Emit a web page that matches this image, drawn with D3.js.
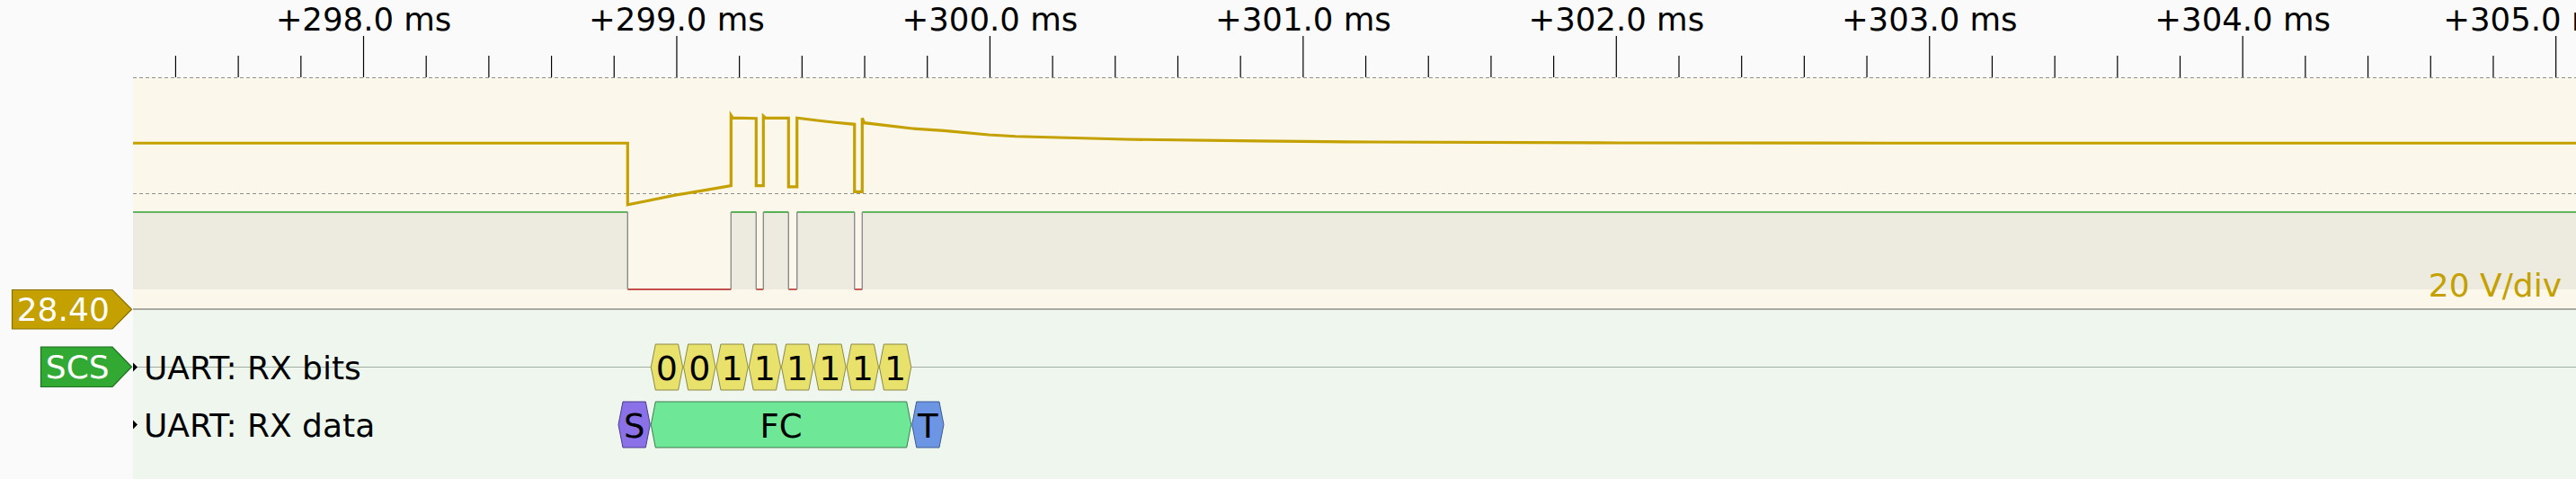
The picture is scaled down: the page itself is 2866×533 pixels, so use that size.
<!DOCTYPE html>
<html><head><meta charset="utf-8">
<script src="https://cdn.jsdelivr.net/npm/d3@7"></script>
<style>
html,body{margin:0;padding:0;background:#fafafa;overflow:hidden}
svg{display:block}
text{font-family:"DejaVu Sans",sans-serif}
</style>
</head><body>
<svg id="c" width="2866" height="533"></svg>
<script>
// ---------- data ----------
const majorTicks = [298, 299, 300, 301, 302, 303, 304, 305];
const tickLabels = ["+298.0 ms", "+299.0 ms", "+300.0 ms", "+301.0 ms", "+302.0 ms", "+303.0 ms", "+304.0 ms", "+305.0 ms"];
const minorTicks = [297.4, 297.6, 297.8, 298.2, 298.4, 298.6, 298.8, 299.2, 299.4, 299.6, 299.8,
  300.2, 300.4, 300.6, 300.8, 301.2, 301.4, 301.6, 301.8, 302.2, 302.4, 302.6, 302.8,
  303.2, 303.4, 303.6, 303.8, 304.2, 304.4, 304.6, 304.8];

// analog channel "28.40" (time in ms, volts)
const analogT = [297.26, 298.8446, 298.8446, 298.90, 299.00, 299.10, 299.1747,
  299.1747, 299.18, 299.255, 299.255, 299.278, 299.278, 299.285, 299.3583,
  299.3583, 299.3853, 299.3853, 299.45, 299.50, 299.569, 299.569, 299.5936,
  299.5936, 299.60, 299.7535, 299.8539, 299.9974, 300.0835, 300.4336,
  300.8584, 301.1453, 302.0063, 302.8673, 305.0655];
const analogV = [28.64, 28.64, 18.03, 18.6, 19.7, 20.6, 21.29,
  33.44, 33.0, 32.91, 21.29, 21.29, 33.3, 32.95, 32.95,
  21.09, 21.09, 32.99, 32.56, 32.25, 31.89, 20.26, 20.26,
  32.95, 32.14, 31.16, 30.78, 30.08, 29.81, 29.30,
  29.0, 28.85, 28.68, 28.64, 28.64];

// logic conversion of the same channel
const logicT = [297.26, 298.8446, 299.1747, 299.2550, 299.2780, 299.3583, 299.3853, 299.5690, 299.5936];
const logicLevel = [1, 0, 1, 0, 1, 0, 1, 0, 1];

// UART decoder annotations
const bitLabels = ["0", "0", "1", "1", "1", "1", "1", "1"];
const bitEdges = [298.9178, 299.0220, 299.1262, 299.2303, 299.3345, 299.4387, 299.5428, 299.6470, 299.7512];
const dataLabels = ["S", "FC", "T"];
const dataStart = [298.8136, 298.9178, 299.7512];
const dataEnd = [298.9178, 299.7512, 299.8553];
const dataFill = ["#8a71e8", "#6ee796", "#6c96e4"];
const dataStroke = ["#4b3d8c", "#3d7d50", "#3b5c8f"];

// ---------- layout ----------
const W = 2866, H = 533;
const viewLeft = 148;
const svg = d3.select("#c");

const x = d3.scaleLinear().domain([298, 305]).range([404, 404 + 7 * 348.45]);
const yA = d3.scaleLinear().domain([0, 40]).range([344, 86]);
const yL = d3.scaleLinear().domain([0, 1]).range([322, 236]);

// backgrounds
svg.append("rect").attr("x", 0).attr("y", 0).attr("width", W).attr("height", H).attr("fill", "#fafafa");
svg.append("rect").attr("x", viewLeft).attr("y", 86).attr("width", W - viewLeft).attr("height", 258).attr("fill", "#fbf8eb");
svg.append("rect").attr("x", viewLeft).attr("y", 344).attr("width", W - viewLeft).attr("height", H - 344).attr("fill", "#eef6ee");

svg.append("clipPath").attr("id", "vc").append("rect")
  .attr("x", viewLeft).attr("y", 0).attr("width", W - viewLeft).attr("height", H);

// ---------- ruler ----------
const rulerOuter = svg.append("g").attr("clip-path", "url(#vc)");
const ruler = rulerOuter.append("g").attr("transform", "translate(0,86)");
const minorAxis = d3.axisTop(x).tickValues(minorTicks).tickSize(24).tickFormat("");
const majorAxis = d3.axisTop(x).tickValues(majorTicks).tickSize(46).tickPadding(6)
  .tickFormat((d, i) => tickLabels[i]);
const gMin = ruler.append("g").call(minorAxis);
const gMaj = ruler.append("g").call(majorAxis);
[gMin, gMaj].forEach(g => {
  g.select(".domain").remove();
  g.selectAll("line").attr("stroke", "#000").attr("stroke-width", 1.2);
});
gMaj.selectAll("text").attr("font-size", 35.5).attr("fill", "#000")
  .attr("font-family", "DejaVu Sans");
// keep labels inside ruler widget
const rulerRight = 2914;
gMaj.selectAll("text").each(function () {
  const w = this.getComputedTextLength();
  const tx = +this.parentNode.getAttribute("transform").match(/translate\(([-\d.]+)/)[1];
  if (tx + w / 2 > rulerRight) d3.select(this).attr("x", rulerRight - w / 2 - tx);
});

// division lines
[40, 20].forEach(v => {
  svg.append("line").attr("x1", viewLeft).attr("x2", W).attr("y1", yA(v) + 0.5).attr("y2", yA(v) + 0.5)
    .attr("stroke", "#8f8f8f").attr("stroke-width", 1.1).attr("stroke-dasharray", "4,3");
});

// ---------- logic conversion ----------
const gL = svg.append("g").attr("clip-path", "url(#vc)");
const segs = logicT.map((t, i) => ({t0: t, t1: i + 1 < logicT.length ? logicT[i + 1] : 305.1, v: logicLevel[i]}));
gL.selectAll("rect.hi").data(segs.filter(s => s.v === 1)).join("rect")
  .attr("x", s => x(s.t0)).attr("width", s => x(s.t1) - x(s.t0))
  .attr("y", yL(1)).attr("height", yL(0) - yL(1)).attr("fill", "#edeadf");
gL.selectAll("line.lv").data(segs).join("line")
  .attr("x1", s => x(s.t0)).attr("x2", s => x(s.t1))
  .attr("y1", s => yL(s.v)).attr("y2", s => yL(s.v))
  .attr("stroke", s => s.v ? "#33a033" : "#b01818").attr("stroke-width", s => s.v ? 1.6 : 1.4);
gL.selectAll("line.edge").data(logicT.slice(1)).join("line")
  .attr("x1", d => x(d)).attr("x2", d => x(d)).attr("y1", yL(1)).attr("y2", yL(0))
  .attr("stroke", "#8c8c8c").attr("stroke-width", 1.4);

// ---------- analog trace ----------
const line = d3.line().x(d => x(d[0])).y(d => yA(d[1]));
svg.append("path").attr("clip-path", "url(#vc)")
  .attr("d", line(analogT.map((t, i) => [t, analogV[i]])))
  .attr("fill", "none").attr("stroke", "#c4a000").attr("stroke-width", 3.2)
  .attr("stroke-linejoin", "miter");

// V/div label
svg.append("text").attr("x", 2850).attr("y", 330).attr("text-anchor", "end")
  .attr("font-size", 36).attr("fill", "#c4a000").text("20 V/div");

// separator
svg.append("line").attr("x1", viewLeft).attr("x2", W).attr("y1", 344).attr("y2", 344)
  .attr("stroke", "#a8aaa2").attr("stroke-width", 2.2);

// ---------- decoder ----------
const rowBits = 408.5, rowData = 472.5, annH = 51;
svg.append("line").attr("x1", viewLeft).attr("x2", W).attr("y1", rowBits).attr("y2", rowBits)
  .attr("stroke", "#a2aea2").attr("stroke-width", 1.2);

function hex(x0, x1, cy, h) {
  const k = Math.min(5, (x1 - x0) / 2);
  return `M${x0},${cy}L${x0 + k},${cy - h / 2}L${x1 - k},${cy - h / 2}L${x1},${cy}L${x1 - k},${cy + h / 2}L${x0 + k},${cy + h / 2}Z`;
}
const gB = svg.append("g");
bitLabels.forEach((b, i) => {
  const x0 = x(bitEdges[i]) + 0.5, x1 = x(bitEdges[i + 1]) - 0.5;
  gB.append("path").attr("d", hex(x0, x1, rowBits, annH)).attr("fill", "#e8e26c")
    .attr("stroke", "#8c8a44").attr("stroke-width", 1);
  gB.append("text").attr("x", (x0 + x1) / 2).attr("y", rowBits + 14).attr("text-anchor", "middle")
    .attr("font-size", 38).attr("fill", "#000").text(b);
});
dataLabels.forEach((lab, i) => {
  const x0 = x(dataStart[i]) + 0.5, x1 = x(dataEnd[i]) - 0.5;
  gB.append("path").attr("d", hex(x0, x1, rowData, annH)).attr("fill", dataFill[i])
    .attr("stroke", dataStroke[i]).attr("stroke-width", 1);
  gB.append("text").attr("x", (x0 + x1) / 2).attr("y", rowData + 14).attr("text-anchor", "middle")
    .attr("font-size", 37).attr("fill", "#000").text(lab);
});

// row labels
[["UART: RX bits", rowBits], ["UART: RX data", rowData]].forEach(([t, cy]) => {
  svg.append("path").attr("d", `M${viewLeft},${cy - 5}L${viewLeft + 5},${cy}L${viewLeft},${cy + 5}Z`).attr("fill", "#000");
  svg.append("text").attr("x", 160).attr("y", cy + 13).attr("font-size", 36).attr("fill", "#000").text(t);
});

// ---------- channel badges ----------
function badge(x0, y0, y1, tip, fill, stroke, label) {
  const cy = (y0 + y1) / 2;
  svg.append("path").attr("d", `M${x0},${y0}L125,${y0}L${tip},${cy}L125,${y1}L${x0},${y1}Z`)
    .attr("fill", fill).attr("stroke", stroke).attr("stroke-width", 1.2);
  svg.append("text").attr("x", (x0 + 125) / 2 + 1).attr("y", cy + 13).attr("text-anchor", "middle")
    .attr("font-size", 36).attr("fill", "#fff").text(label);
}
badge(13.5, 322.5, 366, 146.5, "#c4a000", "#8a7000", "28.40");
badge(45.5, 386, 430.5, 146.5, "#32a932", "#1d6f1d", "SCS");
</script>
</body></html>
